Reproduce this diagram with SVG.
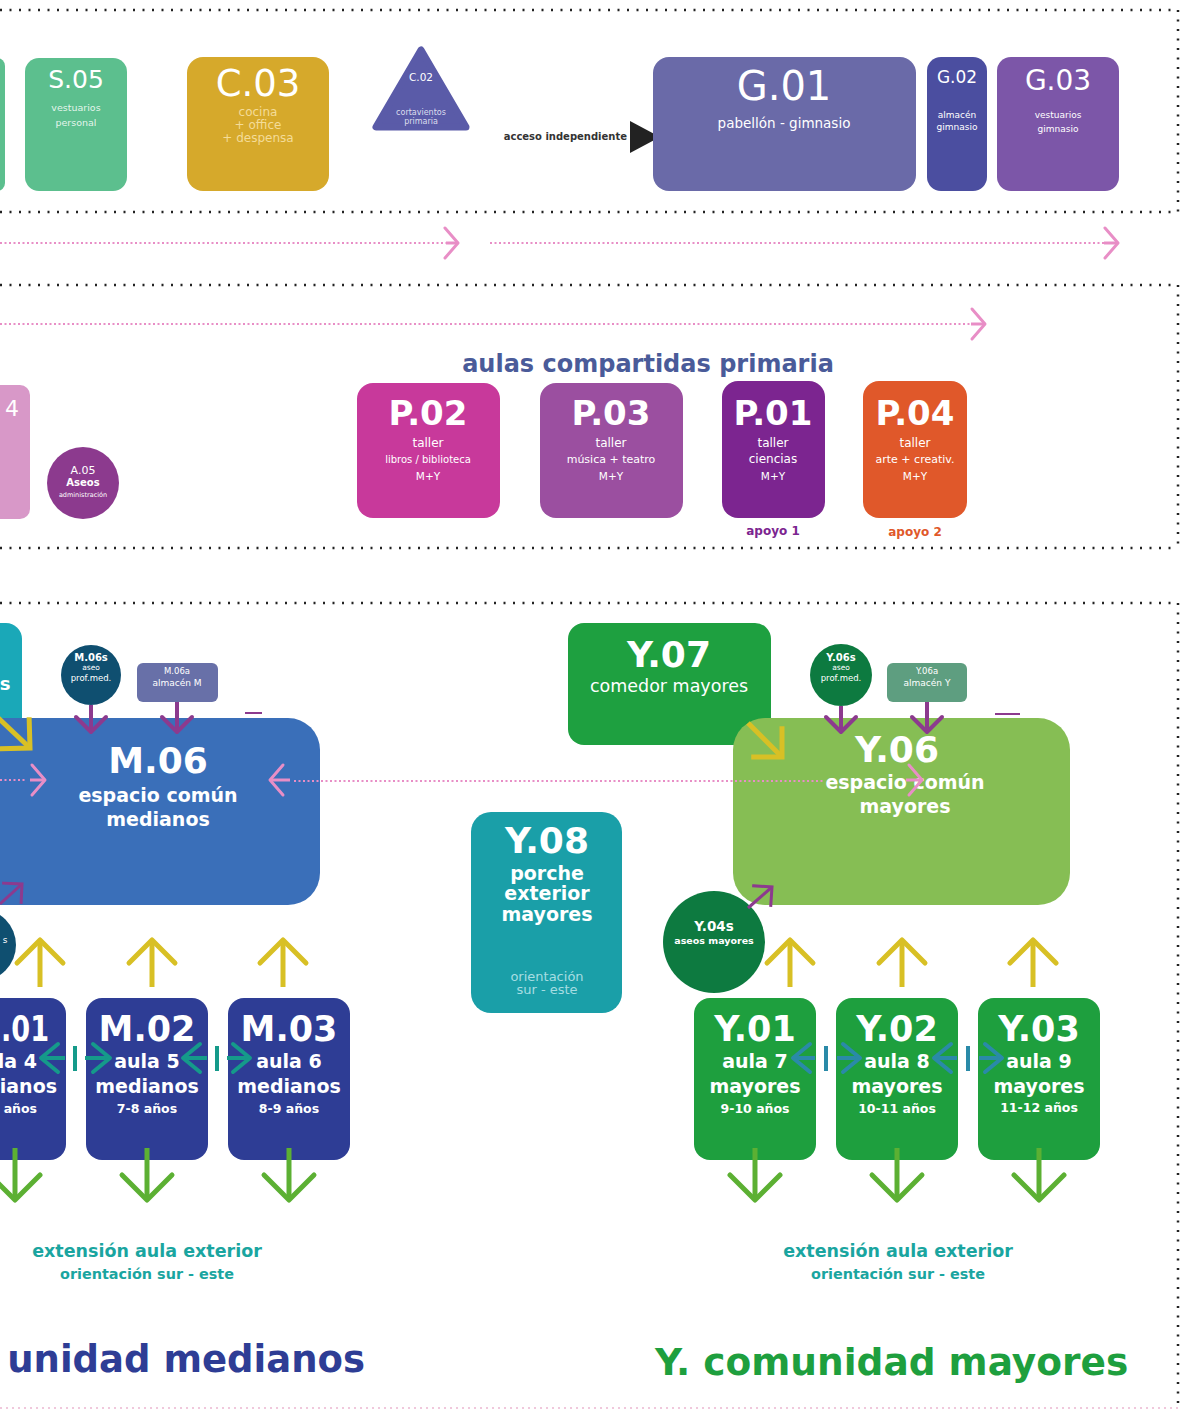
<svg xmlns="http://www.w3.org/2000/svg" width="1186" height="1413" viewBox="0 0 1186 1413">
<style>
text{font-family:"DejaVu Sans","Liberation Sans",sans-serif;fill:#fff;text-anchor:middle}
.b{font-weight:bold}
.e{text-anchor:end}
.dot{fill:none;stroke:#222;stroke-width:2.5;stroke-dasharray:2 7.5}
.pk{fill:none;stroke:#e88ec6;stroke-width:2;stroke-dasharray:2 2.5}
.pks{fill:none;stroke:#e88ec6;stroke-width:3;marker-end:url(#mK)}
.yl{fill:none;stroke:#d8c025;stroke-width:5;marker-end:url(#mY)}
.yd{fill:none;stroke:#d8c025;stroke-width:5;marker-end:url(#mYd)}
.gr{fill:none;stroke:#5cb033;stroke-width:5;marker-end:url(#mG)}
.pu{fill:none;stroke:#8c3a8e;stroke-width:4;marker-end:url(#mP)}
.pud{fill:none;stroke:#8c3a8e;stroke-width:3;marker-end:url(#mPd)}
.tm{fill:none;stroke:#159a8a;stroke-width:4;marker-end:url(#mT)}
.tmb{fill:none;stroke:#159a8a;stroke-width:4}
.ty{fill:none;stroke:#2a8aa8;stroke-width:4;marker-end:url(#mT2)}
.tyb{fill:none;stroke:#2a8aa8;stroke-width:4}
</style>
<defs>
<marker id="mY" markerUnits="userSpaceOnUse" viewBox="-40 -40 80 80" markerWidth="80" markerHeight="80" refX="0" refY="0" orient="auto"><path d="M-23,-23 L0,0 L-23,23" fill="none" stroke="#d8c025" stroke-width="5" stroke-linecap="round" stroke-linejoin="round"/></marker>
<marker id="mYd" markerUnits="userSpaceOnUse" viewBox="-40 -40 80 80" markerWidth="80" markerHeight="80" refX="0" refY="0" orient="auto"><path d="M-20,-20 L0,0 L-20,20" fill="none" stroke="#d8c025" stroke-width="5" stroke-linecap="square" stroke-linejoin="miter"/></marker>
<marker id="mG" markerUnits="userSpaceOnUse" viewBox="-40 -40 80 80" markerWidth="80" markerHeight="80" refX="0" refY="0" orient="auto"><path d="M-25,-25 L0,0 L-25,25" fill="none" stroke="#5cb033" stroke-width="5" stroke-linecap="round" stroke-linejoin="round"/></marker>
<marker id="mP" markerUnits="userSpaceOnUse" viewBox="-30 -30 60 60" markerWidth="60" markerHeight="60" refX="0" refY="0" orient="auto"><path d="M-15,-15 L0,0 L-15,15" fill="none" stroke="#8c3a8e" stroke-width="4" stroke-linecap="round" stroke-linejoin="round"/></marker>
<marker id="mPd" markerUnits="userSpaceOnUse" viewBox="-30 -30 60 60" markerWidth="60" markerHeight="60" refX="0" refY="0" orient="auto"><path d="M-13,-13 L0,0 L-13,13" fill="none" stroke="#8c3a8e" stroke-width="3" stroke-linecap="square"/></marker>
<marker id="mK" markerUnits="userSpaceOnUse" viewBox="-30 -30 60 60" markerWidth="60" markerHeight="60" refX="0" refY="0" orient="auto"><path d="M-13,-15 L0,0 L-13,15" fill="none" stroke="#e88ec6" stroke-width="3" stroke-linecap="round" stroke-linejoin="round"/></marker>
<marker id="mT" markerUnits="userSpaceOnUse" viewBox="-30 -30 60 60" markerWidth="60" markerHeight="60" refX="0" refY="0" orient="auto"><path d="M-17,-14 L0,0 L-17,14" fill="none" stroke="#159a8a" stroke-width="4" stroke-linecap="round" stroke-linejoin="round"/></marker>
<marker id="mT2" markerUnits="userSpaceOnUse" viewBox="-30 -30 60 60" markerWidth="60" markerHeight="60" refX="0" refY="0" orient="auto"><path d="M-17,-14 L0,0 L-17,14" fill="none" stroke="#2a8aa8" stroke-width="4" stroke-linecap="round" stroke-linejoin="round"/></marker>
</defs>
<rect width="1186" height="1413" fill="#fff"/>

<g id="frame">
<path class="dot" d="M0,10 H1178 M0,212 H1178 M0,285 H1178 M0,548 H1178 M0,603 H1178"/>
<path class="dot" d="M1178,10 V212 M1178,285 V548 M1178,603 V1405"/>
<path d="M0,1408 H1178" fill="none" stroke="#f0c8dc" stroke-width="2" stroke-dasharray="2 4"/>
</g>

<g id="node-S04"><rect x="-20" y="58" width="25" height="133" rx="8" fill="#5cbf8e"/></g>
<g id="node-S05"><rect x="25" y="58" width="102" height="133" rx="14" fill="#5cbf8e"/>
<text x="76" y="88" font-size="25">S.05</text>
<text x="76" y="111" font-size="9.5" fill-opacity="0.85">vestuarios</text>
<text x="76" y="126" font-size="9.5" fill-opacity="0.85">personal</text></g>
<g id="node-C03"><rect x="187" y="57" width="142" height="134" rx="16" fill="#d6a92b"/>
<text x="258" y="96" font-size="37">C.03</text>
<text x="258" y="116" font-size="12" style="fill:#f4dc98">cocina</text>
<text x="258" y="129" font-size="12" style="fill:#f4dc98">+ office</text>
<text x="258" y="142" font-size="12" style="fill:#f4dc98">+ despensa</text></g>
<g id="node-C02"><polygon points="421,50 376,127 466,127" fill="#5a5ba8" stroke="#5a5ba8" stroke-width="7" stroke-linejoin="round"/>
<text x="421" y="81" font-size="10.5">C.02</text>
<text x="421" y="115" font-size="8" style="fill:#dde">cortavientos</text>
<text x="421" y="124" font-size="8" style="fill:#dde">primaria</text></g>
<g id="label-acceso"><text x="627" y="140" font-size="10" class="b e" style="fill:#333">acceso independiente</text>
<polygon points="630,121 660,137 630,153" fill="#222"/></g>
<g id="node-G01"><rect x="653" y="57" width="263" height="134" rx="16" fill="#6a6aa8"/>
<text x="784" y="100" font-size="40">G.01</text>
<text x="784" y="128" font-size="13.5">pabellón - gimnasio</text></g>
<g id="node-G02"><rect x="927" y="57" width="60" height="134" rx="14" fill="#4b4ea0"/>
<text x="957" y="83" font-size="17">G.02</text>
<text x="957" y="118" font-size="9">almacén</text>
<text x="957" y="130" font-size="9">gimnasio</text></g>
<g id="node-G03"><rect x="997" y="57" width="122" height="134" rx="14" fill="#7c56a8"/>
<text x="1058" y="90" font-size="28">G.03</text>
<text x="1058" y="118" font-size="9">vestuarios</text>
<text x="1058" y="132" font-size="9">gimnasio</text></g>

<g id="title-primaria"><text x="648" y="372" font-size="24" class="b" style="fill:#4a5b99">aulas compartidas primaria</text></g>
<g id="node-A04"><rect x="-30" y="385" width="60" height="134" rx="10" fill="#d898c8"/>
<text x="19" y="416" font-size="22" class="e">4</text></g>
<g id="node-A05"><circle cx="83" cy="483" r="36" fill="#8c3a8e"/>
<text x="83" y="474" font-size="11">A.05</text>
<text x="83" y="486" font-size="10" class="b">Aseos</text>
<text x="83" y="497" font-size="6.5">administración</text></g>
<g id="node-P02"><rect x="357" y="383" width="143" height="135" rx="16" fill="#c8399b"/>
<text x="428" y="425" font-size="34" class="b">P.02</text>
<text x="428" y="447" font-size="12">taller</text>
<text x="428" y="463" font-size="10">libros / biblioteca</text>
<text x="428" y="480" font-size="10.5">M+Y</text></g>
<g id="node-P03"><rect x="540" y="383" width="143" height="135" rx="16" fill="#9b4fa0"/>
<text x="611" y="425" font-size="34" class="b">P.03</text>
<text x="611" y="447" font-size="12">taller</text>
<text x="611" y="463" font-size="11">música + teatro</text>
<text x="611" y="480" font-size="10.5">M+Y</text></g>
<g id="node-P01"><rect x="722" y="381" width="103" height="137" rx="16" fill="#7c2590"/>
<text x="773" y="425" font-size="34" class="b">P.01</text>
<text x="773" y="447" font-size="12">taller</text>
<text x="773" y="463" font-size="12">ciencias</text>
<text x="773" y="480" font-size="10.5">M+Y</text></g>
<g id="node-P04"><rect x="863" y="381" width="104" height="137" rx="16" fill="#e0582a"/>
<text x="915" y="425" font-size="34" class="b">P.04</text>
<text x="915" y="447" font-size="12">taller</text>
<text x="915" y="463" font-size="11">arte + creativ.</text>
<text x="915" y="480" font-size="10.5">M+Y</text></g>
<g id="label-apoyo"><text x="773" y="535" font-size="12" class="b" style="fill:#7c2590">apoyo 1</text>
<text x="915" y="536" font-size="12" class="b" style="fill:#e0582a">apoyo 2</text></g>

<g id="node-M07"><rect x="-60" y="623" width="82" height="117" rx="16" fill="#1aa8b8"/>
<text x="5" y="690" font-size="18" class="b">s</text></g>
<g id="node-M06"><rect x="-30" y="718" width="350" height="187" rx="32" fill="#3a6fb9"/>
<text x="158" y="773" font-size="36" class="b">M.06</text>
<text x="158" y="802" font-size="19" class="b">espacio común</text>
<text x="158" y="826" font-size="19" class="b">medianos</text></g>
<g id="node-M06s"><circle cx="91" cy="675" r="30" fill="#0f4f70"/>
<text x="91" y="661" font-size="10" class="b">M.06s</text>
<text x="91" y="670" font-size="7.5">aseo</text>
<text x="91" y="681" font-size="8.5">prof.med.</text></g>
<g id="node-M06a"><rect x="137" y="663" width="81" height="39" rx="6" fill="#6870a8"/>
<text x="177" y="674" font-size="8.5">M.06a</text>
<text x="177" y="686" font-size="9">almacén M</text></g>
<g id="node-M04s"><circle cx="-20" cy="945" r="36" fill="#0f4f70"/>
<text x="5" y="943" font-size="9">s</text></g>
<g id="node-M01"><rect x="-56" y="998" width="122" height="162" rx="16" fill="#2e3d95"/>
<text x="1" y="1041" font-size="35" class="b" style="text-anchor:start" textLength="48" lengthAdjust="spacingAndGlyphs">.01</text>
<text x="37" y="1068" font-size="19" class="b e">la 4</text>
<text x="57" y="1093" font-size="19" class="b e">ianos</text>
<text x="37" y="1113" font-size="12.5" class="b e">años</text></g>
<g id="node-M02"><rect x="86" y="998" width="122" height="162" rx="16" fill="#2e3d95"/>
<text x="147" y="1041" font-size="35" class="b">M.02</text>
<text x="147" y="1068" font-size="19" class="b">aula 5</text>
<text x="147" y="1093" font-size="19" class="b">medianos</text>
<text x="147" y="1113" font-size="12.5" class="b">7-8 años</text></g>
<g id="node-M03"><rect x="228" y="998" width="122" height="162" rx="16" fill="#2e3d95"/>
<text x="289" y="1041" font-size="35" class="b">M.03</text>
<text x="289" y="1068" font-size="19" class="b">aula 6</text>
<text x="289" y="1093" font-size="19" class="b">medianos</text>
<text x="289" y="1113" font-size="12.5" class="b">8-9 años</text></g>

<g id="node-Y07"><rect x="568" y="623" width="203" height="122" rx="16" fill="#1ea040"/>
<text x="669" y="667" font-size="36" class="b">Y.07</text>
<text x="669" y="692" font-size="17.5">comedor mayores</text></g>
<g id="node-Y06"><rect x="733" y="718" width="337" height="187" rx="32" fill="#86be54"/>
<text x="897" y="762" font-size="36" class="b">Y.06</text>
<text x="905" y="789" font-size="19" class="b">espacio común</text>
<text x="905" y="813" font-size="19" class="b">mayores</text></g>
<g id="node-Y06s"><circle cx="841" cy="675" r="31" fill="#0d7a40"/>
<text x="841" y="661" font-size="10" class="b">Y.06s</text>
<text x="841" y="670" font-size="7.5">aseo</text>
<text x="841" y="681" font-size="8.5">prof.med.</text></g>
<g id="node-Y06a"><rect x="887" y="663" width="80" height="39" rx="6" fill="#5e9e80"/>
<text x="927" y="674" font-size="8.5">Y.06a</text>
<text x="927" y="686" font-size="9">almacén Y</text></g>
<g id="node-Y08"><rect x="471" y="812" width="151" height="201" rx="20" fill="#1a9fa8"/>
<text x="547" y="853" font-size="36" class="b">Y.08</text>
<text x="547" y="880" font-size="19" class="b">porche</text>
<text x="547" y="900" font-size="19" class="b">exterior</text>
<text x="547" y="921" font-size="19" class="b">mayores</text>
<text x="547" y="981" font-size="13" style="fill:#a6dde2">orientación</text>
<text x="547" y="994" font-size="13" style="fill:#a6dde2">sur - este</text></g>
<g id="node-Y04s"><circle cx="714" cy="942" r="51" fill="#0d7a40"/>
<text x="714" y="931" font-size="13.5" class="b">Y.04s</text>
<text x="714" y="944" font-size="9.5" class="b">aseos mayores</text></g>
<g id="node-Y01"><rect x="694" y="998" width="122" height="162" rx="16" fill="#1e9f3e"/>
<text x="755" y="1041" font-size="35" class="b">Y.01</text>
<text x="755" y="1068" font-size="19" class="b">aula 7</text>
<text x="755" y="1093" font-size="19" class="b">mayores</text>
<text x="755" y="1113" font-size="12.5" class="b">9-10 años</text></g>
<g id="node-Y02"><rect x="836" y="998" width="122" height="162" rx="16" fill="#1e9f3e"/>
<text x="897" y="1041" font-size="35" class="b">Y.02</text>
<text x="897" y="1068" font-size="19" class="b">aula 8</text>
<text x="897" y="1093" font-size="19" class="b">mayores</text>
<text x="897" y="1113" font-size="12.5" class="b">10-11 años</text></g>
<g id="node-Y03"><rect x="978" y="998" width="122" height="162" rx="16" fill="#1e9f3e"/>
<text x="1039" y="1041" font-size="35" class="b">Y.03</text>
<text x="1039" y="1068" font-size="19" class="b">aula 9</text>
<text x="1039" y="1093" font-size="19" class="b">mayores</text>
<text x="1039" y="1112" font-size="12.5" class="b">11-12 años</text></g>

<g id="labels-bottom">
<text x="147" y="1257" font-size="17.5" class="b" style="fill:#1aa5a0">extensión aula exterior</text>
<text x="147" y="1279" font-size="14.4" class="b" style="fill:#1aa5a0">orientación sur - este</text>
<text x="898" y="1257" font-size="17.5" class="b" style="fill:#1aa5a0">extensión aula exterior</text>
<text x="898" y="1279" font-size="14.4" class="b" style="fill:#1aa5a0">orientación sur - este</text>
<text x="365" y="1372" font-size="37" class="b e" style="fill:#2e3d95">unidad medianos</text>
<text x="655" y="1375" font-size="37.5" class="b" style="fill:#1e9f3e;text-anchor:start">Y. comunidad mayores</text>
</g>

<g id="connectors">
<path class="pk" d="M0,243 H448"/><path class="pks" d="M446,243 H458"/>
<path class="pk" d="M490,243 H1106"/><path class="pks" d="M1104,243 H1118"/>
<path class="pk" d="M0,324 H973"/><path class="pks" d="M971,324 H985"/>
<path class="pk" d="M0,780 H26"/><path class="pks" d="M30,780 H45"/>
<path class="pks" d="M290,780 H270"/><path class="pk" d="M294,781 H823"/>
<path class="pks" d="M906,780 H922"/>
<path class="yd" d="M-6,714 L30,748"/>
<path class="yd" d="M748,723 L782,757"/>
<path class="pu" d="M91,705 V732"/>
<path class="pu" d="M177,702 V732"/>
<path class="pu" d="M841,706 V732"/>
<path class="pu" d="M927,702 V732"/>
<path class="pud" d="M0,904 L22,884"/>
<path class="pud" d="M748,908 L772,887"/>
<path d="M245,713 H262 M995,714 H1020" stroke="#8c3a8e" stroke-width="2"/>
<path class="yl" d="M40,987 V940"/><path class="yl" d="M152,987 V940"/><path class="yl" d="M283,987 V940"/>
<path class="yl" d="M790,987 V940"/><path class="yl" d="M902,987 V940"/><path class="yl" d="M1033,987 V940"/>
<path class="gr" d="M15,1148 V1200"/><path class="gr" d="M147,1148 V1200"/><path class="gr" d="M289,1148 V1200"/>
<path class="gr" d="M755,1148 V1200"/><path class="gr" d="M897,1148 V1200"/><path class="gr" d="M1039,1148 V1200"/>
<path class="tm" d="M65,1058 H41"/><path class="tmb" d="M75,1046 V1071"/><path class="tm" d="M85,1058 H110"/>
<path class="tm" d="M207,1058 H183"/><path class="tmb" d="M217,1046 V1071"/><path class="tm" d="M227,1058 H250"/>
<path class="ty" d="M815,1058 H793"/><path class="tyb" d="M826,1046 V1071"/><path class="ty" d="M837,1058 H860"/>
<path class="ty" d="M957,1058 H934"/><path class="tyb" d="M968,1046 V1071"/><path class="ty" d="M979,1058 H1002"/>
</g>
</svg>
